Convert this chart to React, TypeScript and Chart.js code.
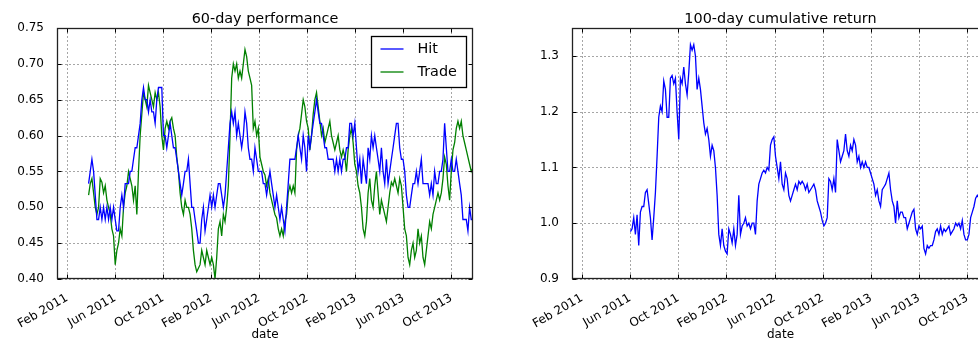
import React, { useEffect, useRef } from 'react';
import { Chart, registerables } from 'chart.js';

Chart.register(...registerables);

const FONT = '"DejaVu Sans", sans-serif';

// x axis: months since 1 Jan 2011 (1 = Feb 2011)
const X_MIN = 0.17;
const X_MAX = 34.8;
const TICK_MONTHS = [1, 5, 9, 13, 17, 21, 25, 29, 33];
const TICK_LABELS = ['Feb 2011', 'Jun 2011', 'Oct 2011', 'Feb 2012', 'Jun 2012', 'Oct 2012', 'Feb 2013', 'Jun 2013', 'Oct 2013'];

// sampling of the daily series (in months)
const LEFT_START = 2.8;
const RIGHT_START = 5.02;
const STEP = 0.1385;

const LEFT_Y_TICKS = [0.4, 0.45, 0.5, 0.55, 0.6, 0.65, 0.7, 0.75];
const RIGHT_Y_TICKS = [0.9, 1.0, 1.1, 1.2, 1.3];

const HIT = [
  0.533, 0.55, 0.567, 0.55, 0.517, 0.483, 0.483, 0.50, 0.483, 0.50,
  0.483, 0.50, 0.483, 0.50, 0.483, 0.50, 0.483, 0.467, 0.467, 0.50,
  0.517, 0.50, 0.533, 0.533, 0.533, 0.55, 0.55, 0.567, 0.583, 0.583,
  0.60, 0.617, 0.65, 0.667, 0.65, 0.65, 0.633, 0.65, 0.633, 0.633,
  0.617, 0.65, 0.667, 0.667, 0.667, 0.60, 0.60, 0.583, 0.60, 0.617,
  0.60, 0.583, 0.583, 0.567, 0.55, 0.533, 0.517, 0.533, 0.55, 0.55,
  0.567, 0.533, 0.50, 0.50, 0.483, 0.467, 0.45, 0.45, 0.483, 0.50,
  0.467, 0.483, 0.50, 0.517, 0.50, 0.517, 0.50, 0.517, 0.533, 0.533,
  0.517, 0.50, 0.517, 0.55, 0.583, 0.617, 0.633, 0.617, 0.633, 0.60,
  0.617, 0.60, 0.583, 0.60, 0.633, 0.617, 0.583, 0.567, 0.567, 0.55,
  0.583, 0.567, 0.55, 0.55, 0.55, 0.533, 0.533, 0.517, 0.533, 0.55,
  0.533, 0.517, 0.50, 0.517, 0.50, 0.483, 0.50, 0.483, 0.467, 0.50,
  0.533, 0.567, 0.567, 0.567, 0.567, 0.583, 0.60, 0.583, 0.567, 0.60,
  0.583, 0.55, 0.60, 0.583, 0.60, 0.617, 0.633, 0.65, 0.633, 0.617,
  0.617, 0.60, 0.583, 0.583, 0.567, 0.567, 0.567, 0.567, 0.55, 0.567,
  0.55, 0.567, 0.55, 0.567, 0.567, 0.583, 0.583, 0.617, 0.617, 0.60,
  0.617, 0.583, 0.55, 0.567, 0.533, 0.567, 0.55, 0.533, 0.583, 0.567,
  0.60, 0.583, 0.60, 0.583, 0.567, 0.55, 0.583, 0.55, 0.533, 0.567,
  0.533, 0.55, 0.567, 0.583, 0.60, 0.617, 0.617, 0.583, 0.567, 0.567,
  0.55, 0.517, 0.50, 0.50, 0.517, 0.533, 0.533, 0.55, 0.533, 0.55,
  0.567, 0.533, 0.533, 0.533, 0.533, 0.517, 0.533, 0.517, 0.55, 0.533,
  0.533, 0.55, 0.55, 0.567, 0.617, 0.583, 0.55, 0.55, 0.567, 0.55,
  0.55, 0.567, 0.55, 0.533, 0.517, 0.483, 0.483, 0.483, 0.467, 0.50,
  0.483, 0.483,
];

const TRADE = [
  0.517, 0.533, 0.54, 0.52, 0.50, 0.49, 0.50, 0.54, 0.535, 0.52,
  0.53, 0.51, 0.50, 0.49, 0.47, 0.46, 0.42, 0.44, 0.45, 0.47,
  0.46, 0.50, 0.52, 0.53, 0.55, 0.54, 0.53, 0.51, 0.53, 0.49,
  0.55, 0.60, 0.63, 0.66, 0.65, 0.64, 0.67, 0.66, 0.65, 0.64,
  0.66, 0.65, 0.66, 0.64, 0.60, 0.58, 0.61, 0.62, 0.61, 0.62,
  0.625, 0.61, 0.60, 0.57, 0.55, 0.52, 0.50, 0.49, 0.51, 0.50,
  0.50, 0.49, 0.47, 0.44, 0.42, 0.41, 0.415, 0.42, 0.44, 0.43,
  0.42, 0.44, 0.43, 0.42, 0.43, 0.42, 0.40, 0.43, 0.47, 0.48,
  0.46, 0.49, 0.48, 0.50, 0.53, 0.60, 0.68, 0.70, 0.69, 0.70,
  0.68, 0.69, 0.68, 0.70, 0.72, 0.71, 0.69, 0.68, 0.67, 0.61,
  0.62, 0.60, 0.61, 0.57, 0.56, 0.55, 0.545, 0.53, 0.54, 0.52,
  0.51, 0.50, 0.49, 0.485, 0.47, 0.46, 0.47, 0.46, 0.48, 0.49,
  0.52, 0.53, 0.52, 0.53, 0.52, 0.58, 0.60, 0.61, 0.63, 0.65,
  0.64, 0.62, 0.61, 0.58, 0.60, 0.63, 0.65, 0.66, 0.64, 0.62,
  0.60, 0.61, 0.59, 0.60, 0.61, 0.62, 0.60, 0.59, 0.58, 0.59,
  0.60, 0.58, 0.57, 0.58, 0.57, 0.55, 0.58, 0.60, 0.61, 0.59,
  0.56, 0.55, 0.53, 0.52, 0.50, 0.47, 0.46, 0.48, 0.52, 0.54,
  0.51, 0.50, 0.53, 0.55, 0.52, 0.49, 0.51, 0.50, 0.49, 0.48,
  0.50, 0.52, 0.535, 0.53, 0.54, 0.53, 0.52, 0.54, 0.53, 0.50,
  0.47, 0.46, 0.43, 0.42, 0.44, 0.45, 0.43, 0.44, 0.47, 0.45,
  0.46, 0.43, 0.42, 0.44, 0.46, 0.48, 0.47, 0.49, 0.50, 0.51,
  0.52, 0.51, 0.52, 0.54, 0.57, 0.56, 0.53, 0.51, 0.55, 0.58,
  0.59, 0.61, 0.62, 0.61, 0.62, 0.60, 0.59, 0.58, 0.57, 0.56,
  0.55, 0.555,
];

const CUM_RETURN = [
  0.985, 0.99, 1.01, 0.98, 1.015, 0.96, 1.02, 1.03, 1.03, 1.055,
  1.06, 1.035, 1.01, 0.97, 1.01, 1.055, 1.12, 1.19, 1.21, 1.20,
  1.255, 1.24, 1.19, 1.19, 1.26, 1.265, 1.25, 1.26, 1.20, 1.15,
  1.26, 1.25, 1.28, 1.25, 1.23, 1.27, 1.32, 1.31, 1.32, 1.30,
  1.24, 1.26, 1.24, 1.21, 1.18, 1.16, 1.17, 1.15, 1.12, 1.14,
  1.13, 1.10, 1.05, 0.98, 0.96, 0.99, 0.96, 0.95, 0.945, 0.99,
  0.98, 0.965, 0.99, 0.96, 0.98, 1.05, 0.98, 0.995, 1.00, 1.01,
  0.995, 1.00, 0.99, 1.00, 1.00, 0.98, 1.04, 1.07, 1.08, 1.09,
  1.095, 1.09, 1.10, 1.095, 1.14, 1.15, 1.155, 1.12, 1.10, 1.08,
  1.11, 1.07, 1.06, 1.09, 1.08, 1.05, 1.04, 1.05, 1.06, 1.07,
  1.06, 1.075, 1.07, 1.075, 1.07, 1.06, 1.07, 1.055, 1.06, 1.065,
  1.07, 1.06, 1.04, 1.03, 1.02, 1.005, 0.995, 1.00, 1.01, 1.08,
  1.075, 1.06, 1.08, 1.055, 1.15, 1.13, 1.11, 1.12, 1.13, 1.16,
  1.13, 1.12, 1.14, 1.13, 1.15, 1.14, 1.11, 1.12, 1.10, 1.11,
  1.10, 1.11, 1.10, 1.10, 1.09, 1.08, 1.07, 1.05, 1.06, 1.04,
  1.03, 1.06, 1.065, 1.07, 1.08, 1.09, 1.06, 1.04, 1.03, 1.00,
  1.04, 1.01, 1.02, 1.02, 1.01, 1.01, 0.99, 1.00, 1.01, 1.02,
  1.025, 0.99, 0.98, 0.995, 0.99, 0.995, 0.955, 0.945, 0.96, 0.955,
  0.96, 0.96, 0.97, 0.985, 0.99, 0.98, 0.995, 0.98, 0.99, 0.985,
  0.99, 0.995, 0.98, 0.985, 0.99, 1.00, 0.995, 1.00, 0.99, 1.005,
  0.98, 0.97, 0.97, 0.98, 1.01, 1.02, 1.03, 1.045, 1.05, 1.045,
  1.045, 1.04, 1.045, 1.045,
];

type LegendItem = { label: string; color: string };

function mplPlugin(title: string, yTicks: number[], legend?: LegendItem[]) {
  return {
    id: 'mpl',
    beforeDatasetsDraw(chart: any) {
      const { ctx, chartArea: a, scales } = chart;
      ctx.save();
      ctx.strokeStyle = 'rgba(0,0,0,0.35)';
      ctx.lineWidth = 1;
      ctx.setLineDash([2, 2]);
      for (const v of TICK_MONTHS) {
        const x = Math.round(scales.x.getPixelForValue(v)) + 0.5;
        ctx.beginPath();
        ctx.moveTo(x, a.top);
        ctx.lineTo(x, a.bottom);
        ctx.stroke();
      }
      for (const v of yTicks) {
        const y = Math.round(scales.y.getPixelForValue(v)) + 0.5;
        ctx.beginPath();
        ctx.moveTo(a.left, y);
        ctx.lineTo(a.right, y);
        ctx.stroke();
      }
      ctx.restore();
    },
    afterDatasetsDraw(chart: any) {
      const { ctx, chartArea: a, scales } = chart;
      ctx.save();
      ctx.strokeStyle = '#000';
      ctx.lineWidth = 1;
      ctx.setLineDash([]);
      const L = Math.round(a.left) + 0.5;
      const R = Math.round(a.right) - 0.5;
      const T = Math.round(a.top) + 0.5;
      const B = Math.round(a.bottom) - 0.5;
      ctx.beginPath();
      for (const v of TICK_MONTHS) {
        const x = Math.round(scales.x.getPixelForValue(v)) + 0.5;
        ctx.moveTo(x, B);
        ctx.lineTo(x, B - 4);
        ctx.moveTo(x, T);
        ctx.lineTo(x, T + 4);
      }
      for (const v of yTicks) {
        const y = Math.round(scales.y.getPixelForValue(v)) + 0.5;
        ctx.moveTo(L, y);
        ctx.lineTo(L + 4, y);
        ctx.moveTo(R, y);
        ctx.lineTo(R - 4, y);
      }
      ctx.stroke();
      ctx.lineWidth = 1.3;
      ctx.strokeStyle = '#222';
      ctx.strokeRect(L, T, R - L, B - T);
      ctx.restore();
    },
    afterDraw(chart: any) {
      const { ctx, chartArea: a } = chart;
      ctx.save();
      ctx.fillStyle = '#000';
      ctx.font = `14.4px ${FONT}`;
      ctx.textAlign = 'center';
      ctx.textBaseline = 'alphabetic';
      ctx.fillText(title, (a.left + a.right) / 2, 22.5);
      if (legend) {
        const bx = Math.round(a.right) - 102 + 0.5;
        const by = Math.round(a.top) + 8 + 0.5;
        ctx.fillStyle = '#fff';
        ctx.fillRect(bx, by, 95, 51);
        ctx.strokeStyle = '#000';
        ctx.lineWidth = 1.3;
        ctx.strokeRect(bx, by, 95, 51);
        legend.forEach((it, i) => {
          const y = a.top + 21 + i * 23;
          ctx.strokeStyle = it.color;
          ctx.lineWidth = 1.3;
          ctx.beginPath();
          ctx.moveTo(bx + 9, y);
          ctx.lineTo(bx + 32, y);
          ctx.stroke();
          ctx.fillStyle = '#000';
          ctx.textAlign = 'left';
          ctx.textBaseline = 'middle';
          ctx.font = `14.4px ${FONT}`;
          ctx.fillText(it.label, bx + 46, y);
        });
      }
      ctx.restore();
    },
  };
}

function makeConfig(opts: {
  datasets: any[];
  yMin: number;
  yMax: number;
  yTicks: number[];
  decimals: number;
  yWidth: number;
  padRight: number;
  title: string;
  legend?: LegendItem[];
}): any {
  return {
    type: 'line',
    data: { datasets: opts.datasets },
    options: {
      animation: false,
      responsive: false,
      devicePixelRatio: 1,
      parsing: false,
      normalized: true,
      layout: { padding: { top: 28, right: opts.padRight, left: 0, bottom: 0 } },
      plugins: { legend: { display: false }, tooltip: { enabled: false }, title: { display: false } },
      elements: { point: { radius: 0 }, line: { tension: 0 } },
      scales: {
        x: {
          type: 'linear',
          min: X_MIN,
          max: X_MAX,
          afterBuildTicks: (s: any) => {
            s.ticks = TICK_MONTHS.map((v) => ({ value: v }));
          },
          afterFit: (s: any) => {
            s.height = 65;
          },
          grid: { display: false },
          border: { display: false },
          ticks: {
            autoSkip: false,
            minRotation: 30,
            maxRotation: 30,
            padding: 4,
            color: '#000',
            font: { family: FONT, size: 12 },
            callback: (v: number) => {
              const i = TICK_MONTHS.indexOf(v);
              return i >= 0 ? TICK_LABELS[i] : '';
            },
          },
          title: {
            display: true,
            text: 'date',
            color: '#000',
            font: { family: FONT, size: 12 },
            padding: { top: 0, bottom: 2 },
          },
        },
        y: {
          type: 'linear',
          min: opts.yMin,
          max: opts.yMax,
          afterBuildTicks: (s: any) => {
            s.ticks = opts.yTicks.map((v) => ({ value: v }));
          },
          afterFit: (s: any) => {
            s.width = opts.yWidth;
          },
          grid: { display: false },
          border: { display: false },
          ticks: {
            padding: 5,
            color: '#000',
            font: { family: FONT, size: 12 },
            callback: (v: number) => Number(v).toFixed(opts.decimals),
          },
        },
      },
    },
    plugins: [mplPlugin(opts.title, opts.yTicks, opts.legend)],
  };
}

function series(values: number[], start: number) {
  return values.map((v, i) => ({ x: start + i * STEP, y: v }));
}

export default function App() {
  const leftRef = useRef<HTMLCanvasElement>(null);
  const rightRef = useRef<HTMLCanvasElement>(null);

  useEffect(() => {
    const left = new Chart(
      leftRef.current as HTMLCanvasElement,
      makeConfig({
        datasets: [
          { label: 'Hit', data: series(HIT, LEFT_START), borderColor: '#0000ff', borderWidth: 1.3, pointRadius: 0, fill: false },
          { label: 'Trade', data: series(TRADE, LEFT_START), borderColor: '#008000', borderWidth: 1.3, pointRadius: 0, fill: false },
        ],
        yMin: 0.4,
        yMax: 0.75,
        yTicks: LEFT_Y_TICKS,
        decimals: 2,
        yWidth: 57,
        padRight: 16,
        title: '60-day performance',
        legend: [
          { label: 'Hit', color: '#0000ff' },
          { label: 'Trade', color: '#008000' },
        ],
      })
    );
    const right = new Chart(
      rightRef.current as HTMLCanvasElement,
      makeConfig({
        datasets: [
          { label: 'cum', data: series(CUM_RETURN, RIGHT_START), borderColor: '#0000ff', borderWidth: 1.3, pointRadius: 0, fill: false },
        ],
        yMin: 0.9,
        yMax: 1.35,
        yTicks: RIGHT_Y_TICKS,
        decimals: 1,
        yWidth: 83,
        padRight: 20,
        title: '100-day cumulative return',
      })
    );
    return () => {
      left.destroy();
      right.destroy();
    };
  }, []);

  return (
    <div style={{ position: 'absolute', left: 0, top: 0, width: 978, height: 344, overflow: 'hidden', background: '#fff' }}>
      <canvas ref={leftRef} width={489} height={344} style={{ position: 'absolute', left: 0, top: 0, width: 489, height: 344 }} />
      <canvas ref={rightRef} width={520} height={344} style={{ position: 'absolute', left: 489, top: 0, width: 520, height: 344 }} />
    </div>
  );
}
